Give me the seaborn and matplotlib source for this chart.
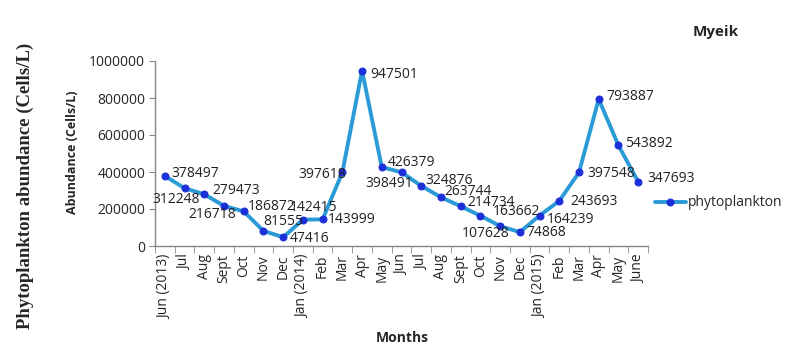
import matplotlib
matplotlib.use("Agg")
import matplotlib.pyplot as plt
from matplotlib.ticker import MultipleLocator, FixedLocator
import pandas as pd
import seaborn as sns

months = ["Jun (2013)", "Jul", "Aug", "Sept", "Oct", "Nov", "Dec", "Jan (2014)",
          "Feb", "Mar", "Apr", "May", "Jun", "Jul", "Aug", "Sept", "Oct", "Nov",
          "Dec", "Jan (2015)", "Feb", "Mar", "Apr", "May", "June"]
abundance = [378497, 312248, 279473, 216718, 186872, 81555, 47416, 142415,
             143999, 397618, 947501, 426379, 398491, 324876, 263744, 214734,
             163662, 107628, 74868, 164239, 243693, 397548, 793887, 543892,
             347693]

# label placement (pixels from point, horizontal alignment)
label_offsets = [(7, 2, "left"), (-8, -11, "center"), (8, 4, "left"),
                 (-12, -9, "center"), (4, 5, "left"), (0, 9, "left"),
                 (7, -1, "left"), (11, 12, "center"), (5, 0, "left"),
                 (4, -2, "right"), (8, -4, "left"), (6, 5, "left"),
                 (-12, -11, "center"), (4, 5, "left"), (3, 6, "left"),
                 (7, 4, "left"), (12, 4, "left"), (-14, -7, "center"),
                 (7, 0, "left"), (7, -4, "left"), (11, -1, "left"),
                 (8, -1, "left"), (8, 3, "left"), (7, 2, "left"), (9, 3, "left")]

df = pd.DataFrame({"idx": range(len(months)), "abundance": abundance})

sns.set_style("white")
plt.rcParams["font.family"] = ["Open Sans", "DejaVu Sans"]

fig = plt.figure(figsize=(7.99, 3.59), dpi=100)
ax = fig.add_axes([155 / 799, 1 - 246 / 359, 493 / 799, 185 / 359])

sns.lineplot(data=df, x="idx", y="abundance", ax=ax, color="#2a9bd6",
             linewidth=2.8, marker="o", markersize=5, markerfacecolor="#1c2fd8",
             markeredgecolor="#1c2fd8", label="phytoplankton", legend=False)

for i, v in enumerate(abundance):
    dx, dy, ha = label_offsets[i]
    ax.annotate(str(v), (i, v), xytext=(dx, dy), textcoords="offset pixels",
                ha=ha, va="center", fontsize=10, color="#222222")

ax.set_xlim(-0.5, len(months) - 0.5)
ax.set_ylim(0, 1000000)
ax.yaxis.set_major_locator(MultipleLocator(200000))
ax.set_yticklabels([f"{int(t)}" for t in ax.get_yticks()])
ax.set_xticks(range(len(months)))
ax.set_xticklabels(months, rotation=90, fontsize=10)
ax.xaxis.set_minor_locator(FixedLocator([i - 0.5 for i in range(len(months) + 1)]))
ax.tick_params(axis="x", which="major", length=0, pad=6)
ax.tick_params(axis="x", which="minor", length=5, color="#888888", bottom=True)
ax.tick_params(axis="y", length=4, color="#888888", left=True, labelsize=10, pad=3)

for s in ["top", "right"]:
    ax.spines[s].set_visible(False)
for s in ["left", "bottom"]:
    ax.spines[s].set_color("#888888")
    ax.spines[s].set_linewidth(1)

ax.set_xlabel("")
ax.set_ylabel("")
fig.text(72 / 799, 1 - 152 / 359, "Abundance (Cells/L)", rotation=90,
         ha="center", va="center", fontsize=9, fontweight="bold")
fig.text(25 / 799, 1 - 186 / 359, "Phytoplankton abundance (Cells/L)", rotation=90,
         ha="center", va="center", fontsize=13.5, fontweight="bold",
         family="Liberation Serif")
fig.text(402 / 799, 1 - 338 / 359, "Months", ha="center", va="center",
         fontsize=10, fontweight="bold")
fig.text(716 / 799, 1 - 32 / 359, "Myeik", ha="center", va="center",
         fontsize=11, fontweight="bold")

fig.legend(*ax.get_legend_handles_labels(), loc="center left",
           bbox_to_anchor=(655 / 799, 1 - 203 / 359), frameon=False,
           borderpad=0, borderaxespad=0, handlelength=2.2, handletextpad=0.2,
           fontsize=10)

fig.savefig("out.png", dpi=100)
